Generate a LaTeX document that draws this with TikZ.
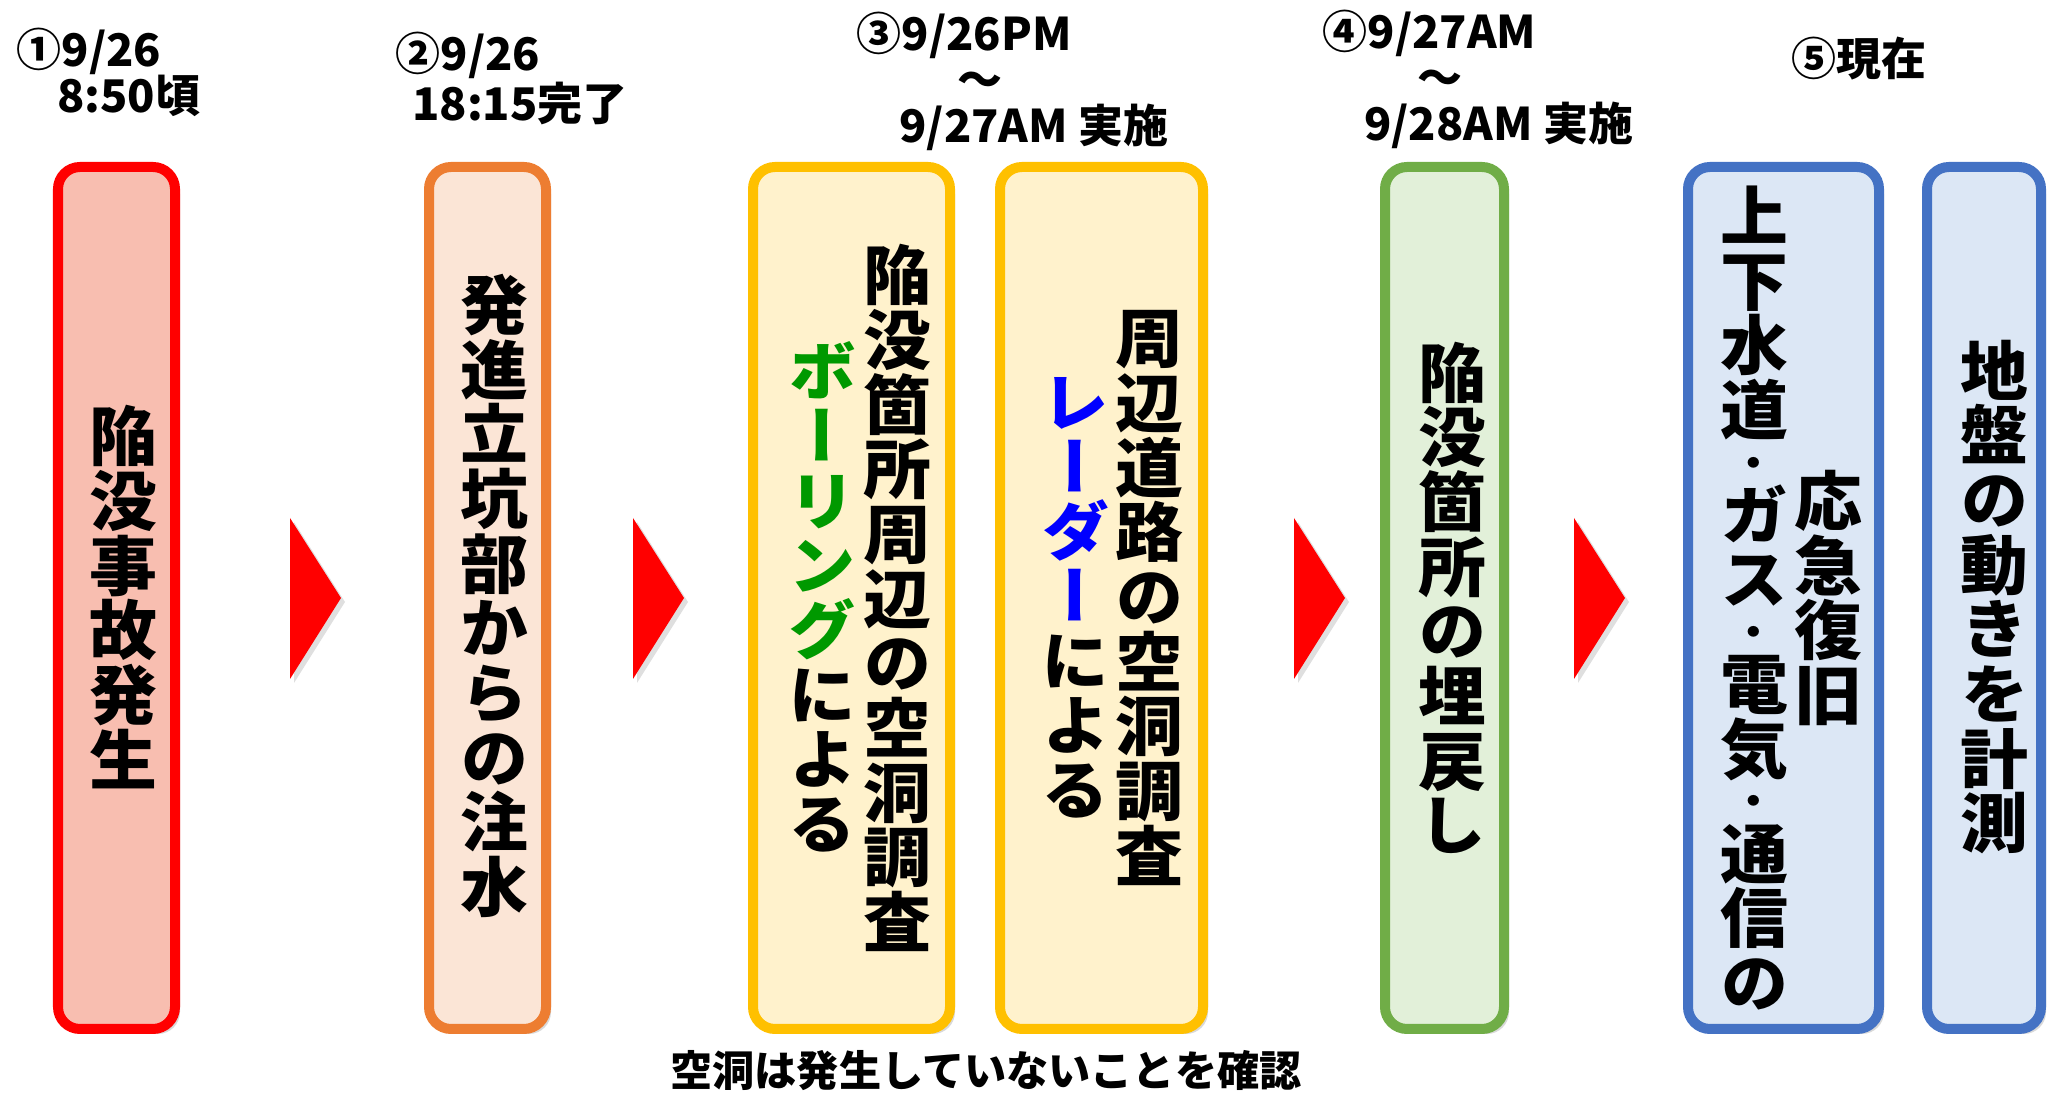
\documentclass[tikz,border=0pt]{standalone}
\usepackage{fontspec}
\setmainfont{Noto Sans CJK JP}
\newfontfamily\vjp{Noto Sans CJK JP}[RawFeature=+vert, FakeStretch=1.05]
\usetikzlibrary{shadows}

\definecolor{accred}{RGB}{255,0,0}
\definecolor{accfill}{RGB}{248,190,176}
\definecolor{injorange}{RGB}{237,125,49}
\definecolor{injfill}{RGB}{251,229,214}
\definecolor{survyellow}{RGB}{255,192,0}
\definecolor{survfill}{RGB}{255,242,204}
\definecolor{bfgreen}{RGB}{112,173,71}
\definecolor{bffill}{RGB}{226,240,217}
\definecolor{nowblue}{RGB}{68,114,196}
\definecolor{nowfill}{RGB}{220,231,245}
\definecolor{boringgreen}{RGB}{0,153,0}
\definecolor{radarblue}{RGB}{0,0,255}

\newcommand\vtext[1]{\vtextA#1\vtextEnd}
\def\vtextA#1#2\vtextEnd{#1\ifx\relax#2\relax\else\\\vtextA#2\vtextEnd\fi}
\newcommand\vdot{\\[-6.3pt]{\fontsize{11}{11}\selectfont ・}\\[-0.7pt]}

\tikzset{
  stagebox/.style={rounded corners=0.22cm, line width=0.1cm, minimum height=8.62cm,
    drop shadow={shadow xshift=0.05cm, shadow yshift=-0.05cm, opacity=0.3}},
  vcol/.style={inner sep=0pt, text width=0.8cm, align=center,
    font=\vjp\fontsize{18.4}{18.4}\selectfont\bfseries},
  datelabel/.style={inner sep=0pt, anchor=north west, align=left,
    font=\fontsize{12.8}{13.1}\selectfont\bfseries},
  flowarrow/.style={fill=accred,
    drop shadow={shadow xshift=0.04cm, shadow yshift=-0.04cm, opacity=0.25}}
}

\begin{document}
\begin{tikzpicture}
  \useasboundingbox (0,0) rectangle (20.66,-11.04);

  \node[stagebox, draw=accred, fill=accfill, minimum width=1.17cm] (accident) at (1.165,-5.98) {};
  \node[stagebox, draw=injorange, fill=injfill, minimum width=1.17cm] (injection) at (4.875,-5.98) {};
  \node[stagebox, draw=survyellow, fill=survfill, minimum width=1.97cm] (boring) at (8.515,-5.98) {};
  \node[stagebox, draw=survyellow, fill=survfill, minimum width=2.03cm] (radar) at (11.015,-5.98) {};
  \node[stagebox, draw=bfgreen, fill=bffill, minimum width=1.19cm] (backfill) at (14.445,-5.98) {};
  \node[stagebox, draw=nowblue, fill=nowfill, minimum width=1.91cm] (utility) at (17.835,-5.98) {};
  \node[stagebox, draw=nowblue, fill=nowfill, minimum width=1.14cm] (monitor) at (19.84,-5.98) {};

  \foreach \ax in {2.90,6.33,12.94,15.74}
    \fill[flowarrow] (\ax,-5.18) -- (\ax+0.51,-5.98) -- (\ax,-6.79) -- cycle;

  \node[vcol] (accident-txt) at (1.23,-5.97) {\vtext{陥没事故発生}};
  \node[vcol] (injection-txt) at (4.94,-5.96) {\vtext{発進立坑部からの注水}};
  \node[vcol] (boring-txt) at (8.97,-5.98) {\vtext{陥没箇所周辺の空洞調査}};
  \node[vcol] (boring-by) at (8.22,-5.97) {\textcolor{boringgreen}{\vtext{ボーリング}}\\\vtext{による}};
  \node[vcol] (radar-txt) at (11.49,-5.98) {\vtext{周辺道路の空洞調査}};
  \node[vcol] (radar-by) at (10.75,-5.98) {\textcolor{radarblue}{\vtext{レーダー}}\\\vtext{による}};
  \node[vcol] (backfill-txt) at (14.52,-5.98) {\vtext{陥没箇所の埋戻し}};
  \node[vcol] (utility-txt) at (17.54,-5.98) {\vtext{上下水道}\vdot\vtext{ガス}\vdot\vtext{電気}\vdot\vtext{通信の}};
  \node[vcol] (utility-rec) at (18.28,-5.98) {\vtext{応急復旧}};
  \node[vcol] (monitor-txt) at (19.94,-5.97) {\vtext{地盤の動きを計測}};

  \node[datelabel] (date1) at (0.16,-0.27) {①9/26\\\hspace{0.9em}8:50頃};
  \node[datelabel] (date2) at (3.95,-0.31) {②9/26\\\hspace{0.37em}18:15完了};
  \node[datelabel] (date3) at (8.56,-0.11) {③9/26PM\\\hspace{2.25em}～\\\hspace{0.95em}9/27AM 実施};
  \node[datelabel] (date4) at (13.22,-0.09) {④9/27AM\\\hspace{2.1em}～\\\hspace{0.92em}9/28AM 実施};
  \node[datelabel] (date5) at (17.91,-0.36) {⑤現在};

  \node[inner sep=0pt, font=\fontsize{12}{12}\selectfont\bfseries] (nocavity) at (9.86,-10.71) {空洞は発生していないことを確認};
\end{tikzpicture}
\end{document}
